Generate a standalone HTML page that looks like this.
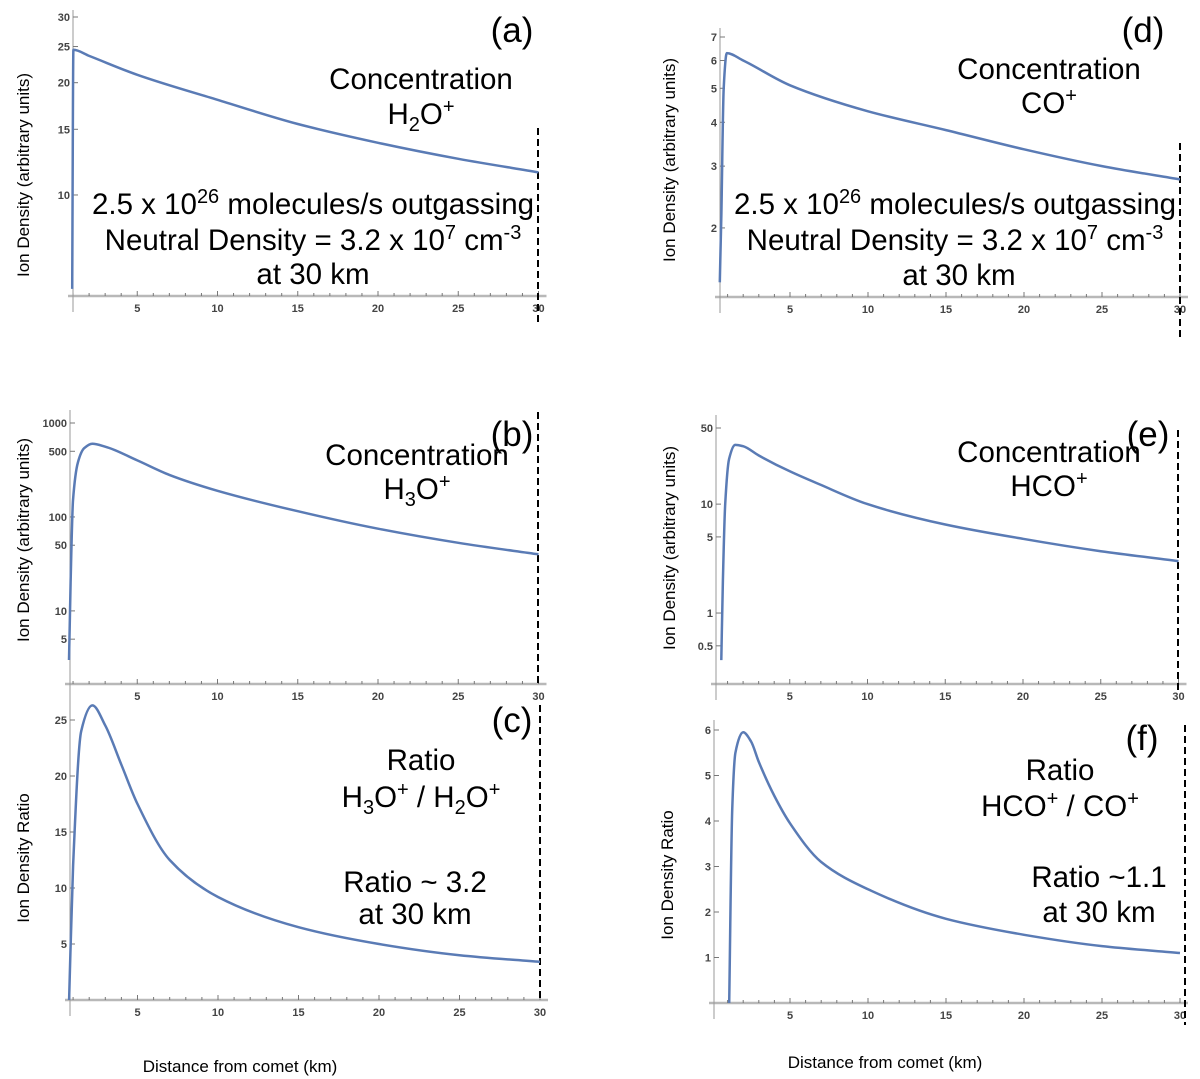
<!DOCTYPE html>
<html><head><meta charset="utf-8"><style>
html,body{margin:0;padding:0;background:#fff;}
svg{display:block;font-family:"Liberation Sans",Arial,sans-serif;}
</style></head><body>
<svg id="fig" width="1200" height="1079" viewBox="0 0 1200 1079" xmlns="http://www.w3.org/2000/svg">
<g id="marks"></g>
<g font-size="29.5" fill="#000" text-anchor="middle">
 <text x="512" y="42" font-size="35">(a)</text>
 <text x="1143" y="42" font-size="35">(d)</text>
 <text x="512" y="446" font-size="35">(b)</text>
 <text x="1148" y="446" font-size="35">(e)</text>
 <text x="512" y="732" font-size="35">(c)</text>
 <text x="1142" y="750" font-size="35">(f)</text>

 <text x="421" y="89">Concentration</text>
 <text x="421" y="124">H<tspan font-size="20" dy="7">2</tspan><tspan dy="-7">O</tspan><tspan font-size="20" dy="-11">+</tspan></text>
 <text x="313" y="214">2.5 x 10<tspan font-size="20" dy="-11">26</tspan><tspan dy="11"> molecules/s outgassing</tspan></text>
 <text x="313" y="250">Neutral Density = 3.2 x 10<tspan font-size="20" dy="-11">7</tspan><tspan dy="11"> cm</tspan><tspan font-size="20" dy="-11">-3</tspan></text>
 <text x="313" y="284">at 30 km</text>

 <text x="1049" y="79">Concentration</text>
 <text x="1049" y="113">CO<tspan font-size="20" dy="-11">+</tspan></text>
 <text x="955" y="214">2.5 x 10<tspan font-size="20" dy="-11">26</tspan><tspan dy="11"> molecules/s outgassing</tspan></text>
 <text x="955" y="250">Neutral Density = 3.2 x 10<tspan font-size="20" dy="-11">7</tspan><tspan dy="11"> cm</tspan><tspan font-size="20" dy="-11">-3</tspan></text>
 <text x="959" y="285">at 30 km</text>

 <text x="417" y="465">Concentration</text>
 <text x="417" y="499">H<tspan font-size="20" dy="7">3</tspan><tspan dy="-7">O</tspan><tspan font-size="20" dy="-11">+</tspan></text>
 <text x="1049" y="462">Concentration</text>
 <text x="1049" y="496">HCO<tspan font-size="20" dy="-11">+</tspan></text>

 <text x="421" y="770">Ratio</text>
 <text x="421" y="807">H<tspan font-size="20" dy="7">3</tspan><tspan dy="-7">O</tspan><tspan font-size="20" dy="-11">+</tspan><tspan dy="11"> / H</tspan><tspan font-size="20" dy="7">2</tspan><tspan dy="-7">O</tspan><tspan font-size="20" dy="-11">+</tspan></text>
 <text x="415" y="892">Ratio ~ 3.2</text>
 <text x="415" y="924">at 30 km</text>

 <text x="1060" y="780">Ratio</text>
 <text x="1060" y="816">HCO<tspan font-size="20" dy="-11">+</tspan><tspan dy="11"> / CO</tspan><tspan font-size="20" dy="-11">+</tspan></text>
 <text x="1099" y="887">Ratio ~1.1</text>
 <text x="1099" y="922">at 30 km</text>

 <text font-size="17" transform="translate(29,175) rotate(-90)">Ion Density (arbitrary units)</text>
 <text font-size="17" transform="translate(675,160) rotate(-90)">Ion Density (arbitrary units)</text>
 <text font-size="17" transform="translate(29,540) rotate(-90)">Ion Density (arbitrary units)</text>
 <text font-size="17" transform="translate(675,548) rotate(-90)">Ion Density (arbitrary units)</text>
 <text font-size="17" transform="translate(29,858) rotate(-90)">Ion Density Ratio</text>
 <text font-size="17" transform="translate(673,875) rotate(-90)">Ion Density Ratio</text>
 <text font-size="17" x="240" y="1072">Distance from comet (km)</text>
 <text font-size="17" x="885" y="1068">Distance from comet (km)</text>
</g>
</svg>
<script>
// Panel (a) H2O+ concentration
const aX = [0.95, 1.02, 2, 5, 10, 15, 20, 25, 30];
const aY = [5.6, 24.5, 23.6, 21, 18, 15.5, 13.8, 12.5, 11.5];
const aTicks = [10, 15, 20, 25, 30];
// Panel (b) H3O+ concentration
const bX = [0.75, 0.85, 1.0, 1.3, 1.7, 2.2, 3, 5, 7, 10, 15, 20, 25, 30];
const bY = [3, 20, 150, 380, 540, 600, 560, 400, 280, 190, 115, 75, 53, 40];
const bTicks = [5, 10, 50, 100, 500, 1000];
// Panel (c) ratio H3O+/H2O+
const cX = [0.75, 1.0, 1.5, 2.2, 3, 4, 5, 7, 10, 15, 20, 25, 30];
const cY = [0, 12, 24, 26.3, 24.5, 21, 17.5, 12.5, 9.2, 6.5, 5, 4, 3.4];
const cTicks = [5, 10, 15, 20, 25];
// Panel (d) CO+ concentration
const dX = [0.5, 0.6, 0.75, 0.95, 2, 5, 10, 15, 20, 25, 30];
const dY = [1.4, 2.2, 5, 6.3, 6.0, 5.1, 4.3, 3.8, 3.35, 3.0, 2.75];
const dTicks = [2, 3, 4, 5, 6, 7];
// Panel (e) HCO+ concentration
const eX = [0.6, 0.7, 0.85, 1.1, 1.5, 2, 3, 5, 7, 10, 15, 20, 25, 30];
const eY = [0.37, 2, 10, 26, 35, 34, 28, 20, 15, 10, 6.5, 4.8, 3.7, 3.0];
const eTicks = [0.5, 1, 5, 10, 50];
// Panel (f) ratio HCO+/CO+
const fX = [1.1, 1.3, 1.5, 2, 2.5, 3, 4, 5, 7, 10, 15, 20, 25, 30];
const fY = [0, 4.3, 5.5, 5.95, 5.75, 5.3, 4.55, 3.95, 3.1, 2.5, 1.85, 1.5, 1.25, 1.1];
const fTicks = [1, 2, 3, 4, 5, 6];
const xTicks = [5, 10, 15, 20, 25, 30];

const NS = 'http://www.w3.org/2000/svg';
const root = document.getElementById('marks');
function mk(tag, attrs, parent) {
  const e = document.createElementNS(NS, tag);
  for (const k in attrs) e.setAttribute(k, attrs[k]);
  (parent || root).appendChild(e);
  return e;
}
// monotone cubic (Fritsch-Carlson) in screen space
function smoothPath(pts) {
  const n = pts.length;
  const dx = [], dy = [], m = [];
  for (let i = 0; i < n - 1; i++) { dx.push(pts[i+1][0]-pts[i][0]); dy.push(pts[i+1][1]-pts[i][1]); m.push(dy[i]/dx[i]); }
  const t = [m[0]];
  for (let i = 1; i < n - 1; i++) {
    if (m[i-1] * m[i] <= 0) t.push(0);
    else { const w1 = 2*dx[i]+dx[i-1], w2 = dx[i]+2*dx[i-1]; t.push((w1+w2)/(w1/m[i-1]+w2/m[i])); }
  }
  t.push(m[n-2]);
  let d = 'M' + pts[0][0].toFixed(1) + ',' + pts[0][1].toFixed(1);
  for (let i = 0; i < n - 1; i++) {
    const h = dx[i] / 3;
    d += ' C' + (pts[i][0]+h).toFixed(1) + ',' + (pts[i][1]+t[i]*h).toFixed(1) + ' ' +
      (pts[i+1][0]-h).toFixed(1) + ',' + (pts[i+1][1]-t[i+1]*h).toFixed(1) + ' ' +
      pts[i+1][0].toFixed(1) + ',' + pts[i+1][1].toFixed(1);
  }
  return d;
}
function panel(id, cfg, xs, ys, ticks) {
  const g = mk('g', {});
  
  
  const sx = x => cfg.x0 + cfg.kx * x;
  const sy = cfg.log
    ? v => cfg.yTop - (Math.log(v) - Math.log(cfg.vTop)) * cfg.ky
    : v => cfg.yZero - v * cfg.ky;
  const axX = cfg.axisX, axY = cfg.axisY;
  const xa = mk('line', {x1: axX - 5, y1: axY, x2: cfg.x0 + cfg.kx * 30 + 8, y2: axY, stroke: '#b8b8b8', 'stroke-width': 2.5}, g);
  
  
  for (let t = 1; t <= 30; t++) {
    const major = t % 5 === 0;
    mk('line', {x1: sx(t), y1: axY - (major ? 5 : 3), x2: sx(t), y2: axY, stroke: '#777', 'stroke-width': 1}, g);
  }
  for (const t of xTicks) {
    const tl = mk('text', {x: sx(t), y: axY + 16, 'font-size': 11, 'font-weight': 'bold', 'text-anchor': 'middle', fill: '#444'}, g);
    
    
    tl.textContent = t;
  }
  const ya = mk('line', {x1: axX, y1: cfg.yAxisTop, x2: axX, y2: axY + 16, stroke: '#999', 'stroke-width': 1}, g);
  
  
  for (const t of ticks) {
    const y = sy(t);
    mk('line', {x1: axX, y1: y, x2: axX + 5, y2: y, stroke: '#777', 'stroke-width': 1}, g);
    const tl = mk('text', {x: axX - 3, y: y + 4, 'font-size': 11, 'font-weight': 'bold', 'text-anchor': 'end', fill: '#444'}, g);
    
    
    tl.textContent = t;
  }
  const dl = mk('line', {x1: cfg.dashX, y1: cfg.dashTop, x2: cfg.dashX, y2: cfg.dashBot, stroke: '#000', 'stroke-width': 2, 'stroke-dasharray': '7,4'}, g);
  
  
  const pts = xs.map((x, i) => [sx(x), sy(ys[i])]);
  const p = mk('path', {d: smoothPath(pts), fill: 'none', stroke: '#5a7bb5', 'stroke-width': 2.5, 'stroke-linejoin': 'round'}, g);
  
  
}
panel('a', {x0: 57, kx: 16.05, log: true, yTop: 17, vTop: 30, ky: 162, axisX: 73, axisY: 296, yAxisTop: 10, dashX: 538, dashTop: 128, dashBot: 326}, aX, aY, aTicks);
panel('b', {x0: 57, kx: 16.05, log: true, yTop: 423, vTop: 1000, ky: 40.8, axisX: 70, axisY: 684, yAxisTop: 410, dashX: 538, dashTop: 412, dashBot: 684}, bX, bY, bTicks);
panel('c', {x0: 57, kx: 16.1, log: false, yZero: 1000, ky: 11.2, axisX: 70, axisY: 1000, yAxisTop: 700, dashX: 540, dashTop: 705, dashBot: 1001}, cX, cY, cTicks);
panel('d', {x0: 712, kx: 15.6, log: true, yTop: 37, vTop: 7, ky: 152.4, axisX: 720, axisY: 297, yAxisTop: 28, dashX: 1180, dashTop: 143, dashBot: 341}, dX, dY, dTicks);
panel('e', {x0: 712, kx: 15.55, log: true, yTop: 428, vTop: 50, ky: 47.3, axisX: 716, axisY: 684, yAxisTop: 415, dashX: 1178, dashTop: 430, dashBot: 692}, eX, eY, eTicks);
panel('f', {x0: 712, kx: 15.6, log: false, yZero: 1003, ky: 45.5, axisX: 714, axisY: 1003, yAxisTop: 720, dashX: 1185, dashTop: 725, dashBot: 1025}, fX, fY, fTicks);
</script>
</body></html>
